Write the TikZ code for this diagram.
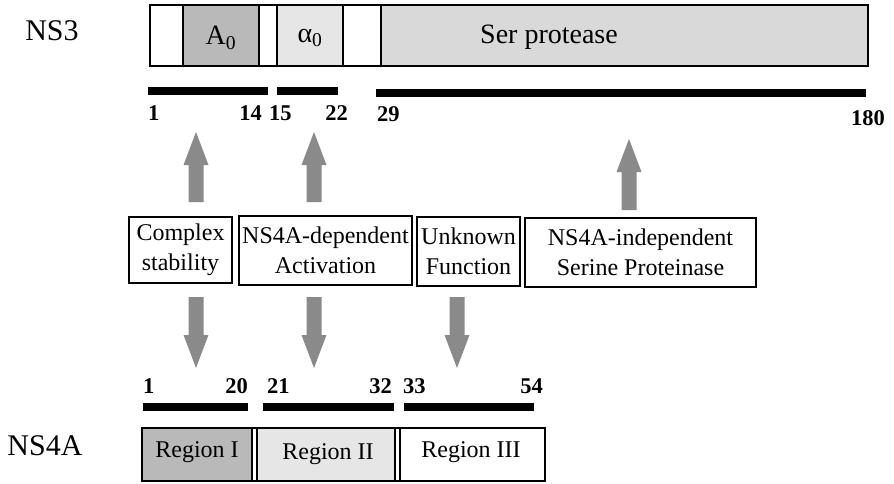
\documentclass[tikz,border=0pt]{standalone}
\usepackage{fontspec}
\setmainfont{Liberation Serif}
\usetikzlibrary{calc}

\definecolor{domdark}{HTML}{B9B9B9}
\definecolor{domlight}{HTML}{E6E6E6}
\definecolor{domser}{HTML}{D9D9D9}
\definecolor{arrowgray}{HTML}{8A8A8A}

% block arrow from tail #1 to tip #2 (vertical)
\newcommand\blockarrow[2]{%
  \coordinate (hb) at ($(#2)!33pt!(#1)$);
  \fill[arrowgray] ($(#1)+(-7.5,0)$) -- ($(hb)+(-7.5,0)$) -- ($(hb)+(-12.5,0)$)
    -- (#2) -- ($(hb)+(12.5,0)$) -- ($(hb)+(7.5,0)$) -- ($(#1)+(7.5,0)$) -- cycle;}

\begin{document}
\begin{tikzpicture}[x=1pt,y=-1pt,
  frame/.style={draw=black, line width=1.1pt},
  seglabel/.style={font=\fontsize{28}{30}\selectfont, inner sep=0pt},
  protlabel/.style={font=\fontsize{30}{32}\selectfont, inner sep=0pt},
  num/.style={font=\fontsize{22.5}{24}\selectfont\bfseries, inner sep=0pt},
  bar/.style={fill=black, inner sep=0pt, minimum height=8pt},
  rolebox/.style={draw=black, line width=1.1pt, inner sep=0pt, align=center,
    font=\fontsize{24}{30}\selectfont},
  regionlabel/.style={font=\fontsize{24}{26}\selectfont, inner sep=0pt}]
\useasboundingbox (0,0) rectangle (894,484);

% ---- NS3 domain map ----
\node[protlabel] (ns3) at (52,31) {NS3};
\fill[domdark]  (183,5) rectangle (259,66);
\fill[domlight] (277,5) rectangle (343,66);
\fill[domser]   (381,5) rectangle (868,66);
\draw[frame] (150,5) rectangle (868,66);
\foreach \xx in {183,259,277,343,381} \draw[frame] (\xx,5) -- (\xx,66);
\node[seglabel] (a0) at (221,38) {A\textsubscript{0}};
\node[seglabel] (alpha0) at (310,38) {α\textsubscript{0}};
\node[seglabel] (ser) at (549,37) {Ser protease};

% residue ranges on NS3
\node[bar, minimum width=120pt, anchor=west] (b1) at (148,91) {};
\node[bar, minimum width=61pt, anchor=west] (b2) at (277,91) {};
\node[bar, minimum width=490pt, anchor=west] (b3) at (376,93) {};
\node[num, anchor=west] (n1) at (148,113) {1};
\node[num, anchor=east] (n14) at (262,113) {14};
\node[num, anchor=west] (n15) at (269,113) {15};
\node[num, anchor=east] (n22) at (348,113) {22};
\node[num, anchor=west] (n29) at (377,114) {29};
\node[num, anchor=east] (n180) at (885,118) {180};

% ---- functional roles ----
\node[rolebox, minimum width=103pt, minimum height=66pt] (cs) at (180.5,250) {Complex\\stability};
\node[rolebox, minimum width=173pt, minimum height=69pt] (dep) at (325.5,250.5) {NS4A-dependent\\Activation};
\node[rolebox, minimum width=103pt, minimum height=69pt] (unk) at (468.5,251.5) {Unknown\\Function};
\node[rolebox, minimum width=231pt, minimum height=69pt] (ind) at (640.5,252.5) {NS4A-independent\\Serine Proteinase};

% arrow ends
\coordinate (u1t) at (196,202); \coordinate (u1h) at (196,132);
\coordinate (u2t) at (314,202); \coordinate (u2h) at (314,132);
\coordinate (u3t) at (629,210); \coordinate (u3h) at (629,139);
\coordinate (d1t) at (196,297); \coordinate (d1h) at (196,368);
\coordinate (d2t) at (314,297); \coordinate (d2h) at (314,368);
\coordinate (d3t) at (457,297); \coordinate (d3h) at (457,368);
\blockarrow{u1t}{u1h}
\blockarrow{u2t}{u2h}
\blockarrow{u3t}{u3h}
\blockarrow{d1t}{d1h}
\blockarrow{d2t}{d2h}
\blockarrow{d3t}{d3h}

% ---- NS4A regions ----
\node[num, anchor=west] (m1) at (143,386) {1};
\node[num, anchor=east] (m20) at (248,386) {20};
\node[num, anchor=west] (m21) at (267,386) {21};
\node[num, anchor=east] (m32) at (392,386) {32};
\node[num, anchor=west] (m33) at (403,386) {33};
\node[num, anchor=east] (m54) at (543,386) {54};
\node[bar, minimum width=105pt, anchor=west] (c1) at (143,407) {};
\node[bar, minimum width=131pt, anchor=west] (c2) at (263,407) {};
\node[bar, minimum width=130pt, anchor=west] (c3) at (404,407) {};

\node[protlabel] (ns4a) at (45,446) {NS4A};
\fill[domdark]  (142,428) rectangle (252,481);
\fill[domlight] (257,428) rectangle (395,481);
\draw[frame] (142,428) rectangle (545,481);
\foreach \xx in {252,257,395,400} \draw[frame] (\xx,428) -- (\xx,481);
\node[regionlabel] (r1) at (197,452) {Region I};
\node[regionlabel] (r2) at (328,454) {Region II};
\node[regionlabel] (r3) at (471,452) {Region III};
\end{tikzpicture}
\end{document}
